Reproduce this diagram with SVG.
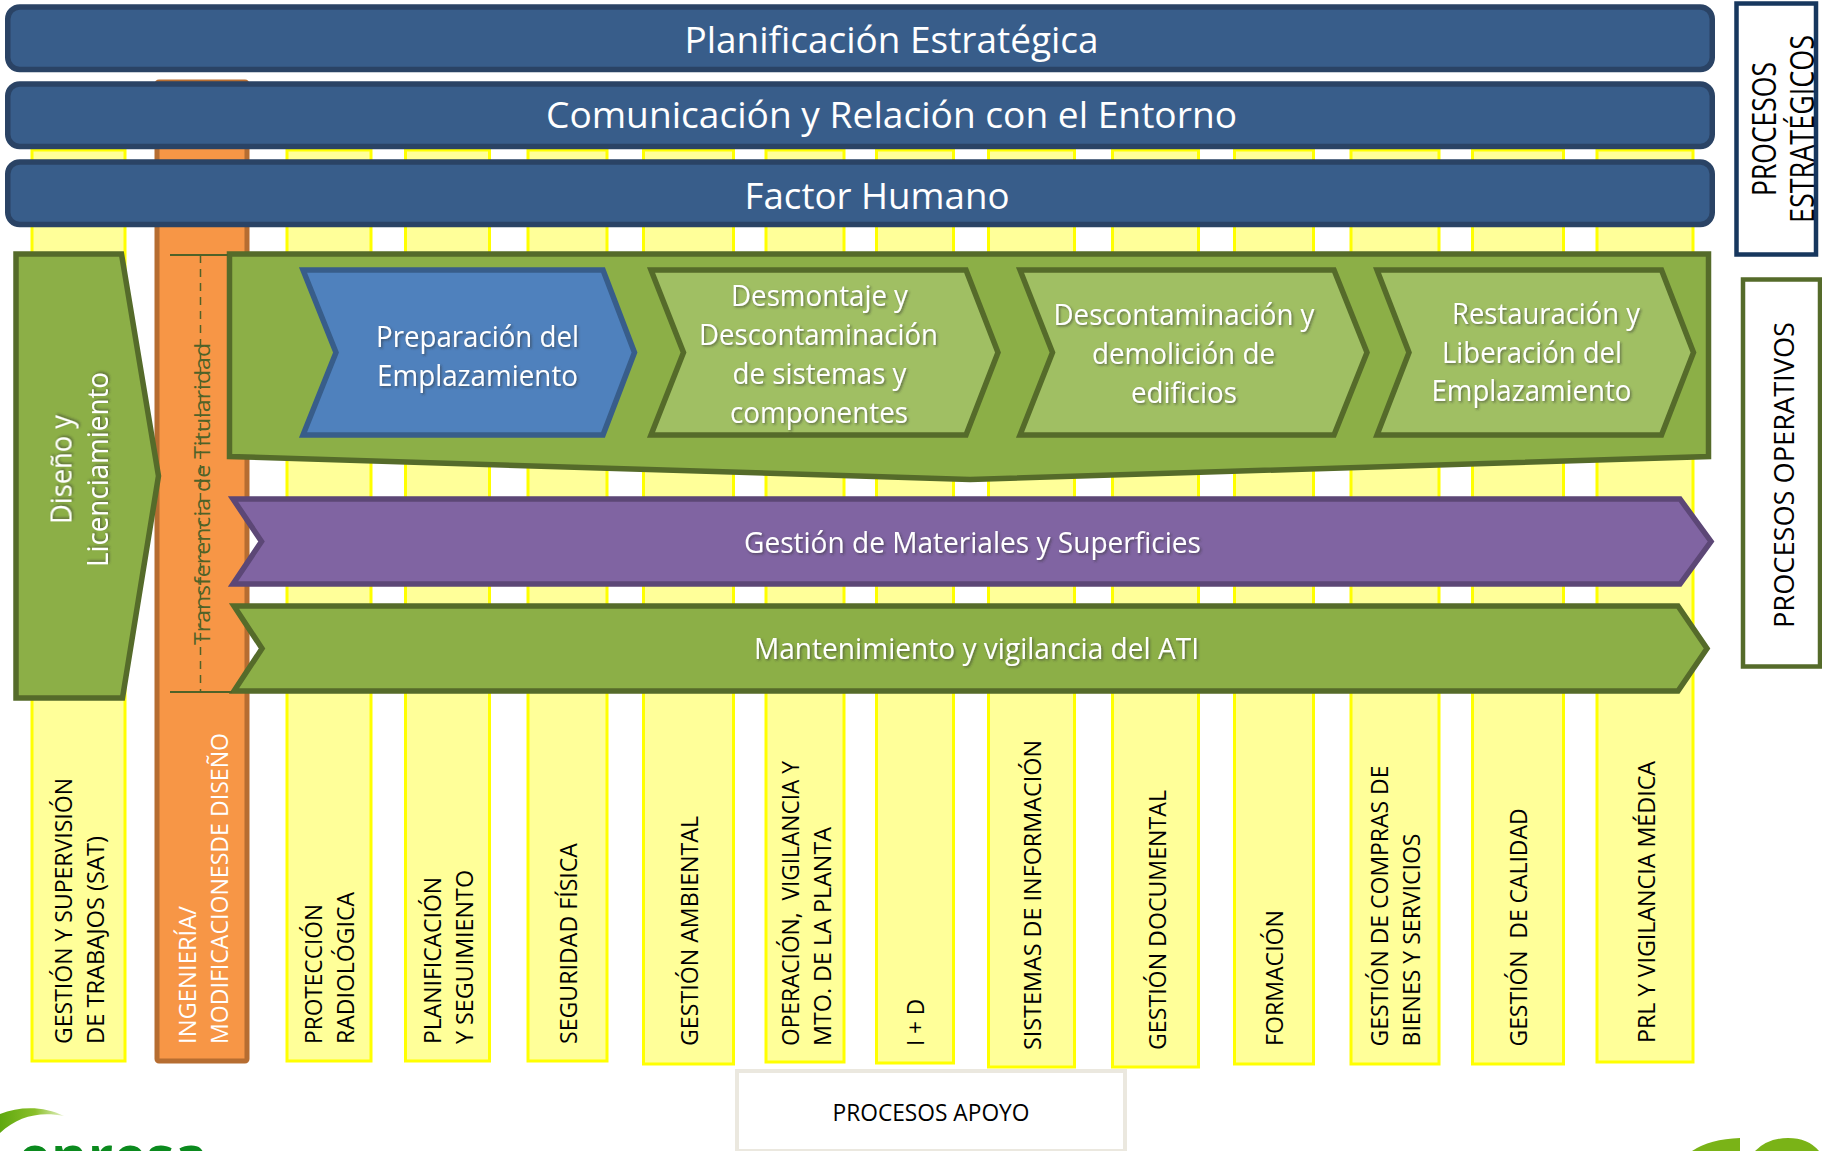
<svg xmlns="http://www.w3.org/2000/svg" width="1822" height="1151" viewBox="0 0 1822 1151">
<style>
text{font-family:"Open Sans","Noto Sans","Liberation Sans",sans-serif;white-space:pre}
.col{fill:#FFFF99;stroke:#FFFF00;stroke-width:3}
.bar{fill:#385D8A;stroke:#2A4365;stroke-width:5.5}
.bt{fill:#fff;font-size:36px;text-anchor:middle}
.gr{fill:#8CAF47;stroke:#556B2A;stroke-width:5.5;stroke-linejoin:miter}
.lg{fill:#A0BF63;stroke:#556B2A;stroke-width:5.5}
.ct{fill:#fff;font-size:30px;filter:url(#sh)}
.st{fill:#000;font-size:23px}
.wt{fill:#fff;font-size:23px}
.box{fill:#fff}
.lbl{fill:#000;font-size:32px}
</style>
<defs>
<filter id="sh" x="-10%" y="-30%" width="120%" height="160%"><feDropShadow dx="1.5" dy="1.5" stdDeviation="1" flood-color="#333" flood-opacity=".55"/></filter>
<linearGradient id="arc" x1="0" y1="0" x2="1" y2="0"><stop offset="0" stop-color="#5FA80F"/><stop offset=".55" stop-color="#8ABF2A"/><stop offset="1" stop-color="#E6F2C8"/></linearGradient>
</defs>
<rect width="1822" height="1151" fill="#fff"/>

<g id="columns">
<rect class="col" x="32" y="150" width="93" height="911"/>
<rect class="col" x="287" y="150" width="84" height="911"/>
<rect class="col" x="405.500" y="150" width="84" height="911"/>
<rect class="col" x="528" y="150" width="79" height="911"/>
<rect class="col" x="643.500" y="150" width="90" height="914"/>
<rect class="col" x="766" y="150" width="78" height="912"/>
<rect class="col" x="876.500" y="150" width="77" height="913"/>
<rect class="col" x="988.500" y="150" width="86" height="917"/>
<rect class="col" x="1112.500" y="150" width="86" height="917"/>
<rect class="col" x="1234.500" y="150" width="79" height="914"/>
<rect class="col" x="1351" y="150" width="88" height="914"/>
<rect class="col" x="1472.500" y="150" width="91" height="914"/>
<rect class="col" x="1597" y="150" width="96" height="912"/>
</g>

<g id="ingenieria">
<rect x="157" y="82" width="90" height="979" rx="2" fill="#F79646" stroke="#B66D31" stroke-width="5"/>
<text class="wt" transform="translate(195.500,1044) rotate(-90)" textLength="138" lengthAdjust="spacingAndGlyphs">INGENIERÍA/</text>
<text class="wt" transform="translate(227.500,1044) rotate(-90)" textLength="311" lengthAdjust="spacingAndGlyphs">MODIFICACIONESDE DISEÑO</text>
</g>

<g id="bar-planificacion">
<rect class="bar" x="7.750" y="7" width="1704.500" height="62.500" rx="12"/>
<text class="bt" x="891.500" y="53" textLength="414" lengthAdjust="spacingAndGlyphs">Planificación Estratégica</text>
</g>
<g id="bar-comunicacion">
<rect class="bar" x="7.750" y="84" width="1704.500" height="62.500" rx="12"/>
<text class="bt" x="891.500" y="128" textLength="691" lengthAdjust="spacingAndGlyphs">Comunicación y Relación con el Entorno</text>
</g>
<g id="bar-factor">
<rect class="bar" x="7.750" y="162" width="1704.500" height="62.500" rx="12"/>
<text class="bt" x="877" y="209" textLength="265" lengthAdjust="spacingAndGlyphs">Factor Humano</text>
</g>

<g id="diseno">
<path class="gr" d="M16 254H121.500L158.500 476L122.500 698H16Z"/>
<text class="ct" transform="translate(71.500,524) rotate(-90)" textLength="109" lengthAdjust="spacingAndGlyphs">Diseño y</text>
<text class="ct" transform="translate(108,567) rotate(-90)" textLength="195" lengthAdjust="spacingAndGlyphs">Licenciamiento</text>
</g>

<g id="operativos-main">
<path class="gr" d="M229.500 254H1708.500V456.500L970 479.500L229.500 456.500Z"/>
</g>
<g id="preparacion">
<path fill="#4F81BD" stroke="#385D8A" stroke-width="5.5" d="M303 270H603L634.500 352.500L603 435H303L336 352.500Z"/>
<text class="ct" x="376" y="347" textLength="203" lengthAdjust="spacingAndGlyphs">Preparación del</text>
<text class="ct" x="377" y="386" textLength="201" lengthAdjust="spacingAndGlyphs">Emplazamiento</text>
</g>
<g id="desmontaje">
<path class="lg" d="M651 270H966L998 352.500L966 435H651L683.500 352.500Z"/>
<text class="ct" x="731" y="306" textLength="177" lengthAdjust="spacingAndGlyphs">Desmontaje y</text>
<text class="ct" x="699" y="345" textLength="239" lengthAdjust="spacingAndGlyphs">Descontaminación</text>
<text class="ct" x="732.500" y="384" textLength="174" lengthAdjust="spacingAndGlyphs">de sistemas y</text>
<text class="ct" x="730" y="423" textLength="178" lengthAdjust="spacingAndGlyphs">componentes</text>
</g>
<g id="descontaminacion">
<path class="lg" d="M1020 270H1334L1367 352.500L1334 435H1020L1052.500 352.500Z"/>
<text class="ct" x="1053.500" y="325" textLength="261" lengthAdjust="spacingAndGlyphs">Descontaminación y</text>
<text class="ct" x="1092" y="364" textLength="183" lengthAdjust="spacingAndGlyphs">demolición de</text>
<text class="ct" x="1131" y="403" textLength="106" lengthAdjust="spacingAndGlyphs">edificios</text>
</g>
<g id="restauracion">
<path class="lg" d="M1377 270H1661.500L1693.500 352.500L1661.500 435H1377L1409 352.500Z"/>
<text class="ct" x="1452" y="324" textLength="188" lengthAdjust="spacingAndGlyphs">Restauración y</text>
<text class="ct" x="1442" y="362.500" textLength="180" lengthAdjust="spacingAndGlyphs">Liberación del</text>
<text class="ct" x="1431.500" y="401" textLength="200" lengthAdjust="spacingAndGlyphs">Emplazamiento</text>
</g>

<g id="materiales">
<path fill="#8064A2" stroke="#5C4776" stroke-width="5.500" d="M233 499H1680L1711 541.500L1680 584H233L261.500 541.500Z"/>
<text class="ct" x="744" y="553" textLength="457" lengthAdjust="spacingAndGlyphs">Gestión de Materiales y Superficies</text>
</g>
<g id="ati">
<path class="gr" d="M234 606H1678L1707 648.500L1678 691H234L262 648.500Z"/>
<text class="ct" x="754" y="658.500" textLength="445" lengthAdjust="spacingAndGlyphs">Mantenimiento y vigilancia del ATI</text>
</g>

<g id="transferencia">
<text transform="translate(210,645) rotate(-90)" fill="#4F6228" style="font-size:22px" textLength="302" lengthAdjust="spacingAndGlyphs">Transferencia de Titularidad</text>
</g>
<g id="connectors" fill="none" stroke="#4F6228">
<path stroke-width="2" d="M170 255H228M170 692H232"/>
<path stroke-width="1.500" stroke-dasharray="8 6" d="M200.500 255V692"/>
</g>

<g id="col-labels">
<text class="st" transform="translate(71.500,1044) rotate(-90)" textLength="266" lengthAdjust="spacingAndGlyphs">GESTIÓN Y SUPERVISIÓN</text>
<text class="st" transform="translate(103.500,1044) rotate(-90)" textLength="208" lengthAdjust="spacingAndGlyphs">DE TRABAJOS (SAT)</text>
<text class="st" transform="translate(322,1044) rotate(-90)" textLength="140" lengthAdjust="spacingAndGlyphs">PROTECCIÓN</text>
<text class="st" transform="translate(354,1044) rotate(-90)" textLength="152" lengthAdjust="spacingAndGlyphs">RADIOLÓGICA</text>
<text class="st" transform="translate(441,1044) rotate(-90)" textLength="167" lengthAdjust="spacingAndGlyphs">PLANIFICACIÓN</text>
<text class="st" transform="translate(473,1044) rotate(-90)" textLength="174" lengthAdjust="spacingAndGlyphs">Y SEGUIMIENTO</text>
<text class="st" transform="translate(577,1044) rotate(-90)" textLength="201" lengthAdjust="spacingAndGlyphs">SEGURIDAD FÍSICA</text>
<text class="st" transform="translate(698,1046) rotate(-90)" textLength="230" lengthAdjust="spacingAndGlyphs">GESTIÓN AMBIENTAL</text>
<text class="st" transform="translate(799,1046) rotate(-90)" textLength="285" lengthAdjust="spacingAndGlyphs">OPERACIÓN,  VIGILANCIA Y</text>
<text class="st" transform="translate(831,1046) rotate(-90)" textLength="219" lengthAdjust="spacingAndGlyphs">MTO. DE LA PLANTA</text>
<text class="st" transform="translate(924,1046) rotate(-90)" textLength="47" lengthAdjust="spacingAndGlyphs">I + D</text>
<text class="st" transform="translate(1041,1050) rotate(-90)" textLength="310" lengthAdjust="spacingAndGlyphs">SISTEMAS DE INFORMACIÓN</text>
<text class="st" transform="translate(1165.500,1050) rotate(-90)" textLength="260" lengthAdjust="spacingAndGlyphs">GESTIÓN DOCUMENTAL</text>
<text class="st" transform="translate(1283,1046) rotate(-90)" textLength="136" lengthAdjust="spacingAndGlyphs">FORMACIÓN</text>
<text class="st" transform="translate(1388,1046.500) rotate(-90)" textLength="281" lengthAdjust="spacingAndGlyphs">GESTIÓN DE COMPRAS DE</text>
<text class="st" transform="translate(1420,1046.500) rotate(-90)" textLength="213" lengthAdjust="spacingAndGlyphs">BIENES Y SERVICIOS</text>
<text class="st" transform="translate(1527,1046.500) rotate(-90)" textLength="238" lengthAdjust="spacingAndGlyphs">GESTIÓN  DE CALIDAD</text>
<text class="st" transform="translate(1655,1043) rotate(-90)" textLength="282" lengthAdjust="spacingAndGlyphs">PRL Y VIGILANCIA MÉDICA</text>
</g>

<g id="label-estrategicos">
<rect class="box" x="1736.500" y="3.500" width="79.500" height="251" stroke="#17375E" stroke-width="4.500"/>
<text class="lbl" transform="translate(1775.500,196) rotate(-90)" textLength="134" lengthAdjust="spacingAndGlyphs">PROCESOS</text>
<text class="lbl" transform="translate(1814,223) rotate(-90)" textLength="188" lengthAdjust="spacingAndGlyphs">ESTRATÉGICOS</text>
</g>
<g id="label-operativos">
<rect class="box" x="1743" y="279.500" width="77" height="387" stroke="#556B2A" stroke-width="4.500"/>
<text class="lbl" transform="translate(1794,628) rotate(-90)" style="font-size:28px" textLength="306" lengthAdjust="spacingAndGlyphs">PROCESOS OPERATIVOS</text>
</g>
<g id="label-apoyo">
<rect class="box" x="737" y="1071" width="388" height="80" stroke="#EBE8DF" stroke-width="4"/>
<text x="832.500" y="1121" fill="#000" style="font-size:24px" textLength="197" lengthAdjust="spacingAndGlyphs">PROCESOS APOYO</text>
</g>

<g id="logo-enresa">
<path fill="url(#arc)" d="M0 1114C20 1106 44 1106 64 1116C40 1111 18 1116 0 1133Z"/>
<text x="18" y="1179" fill="#0B8A1E" style="font-size:60px;font-weight:700" textLength="190" lengthAdjust="spacingAndGlyphs">enresa</text>
</g>
<g id="logo-right" fill="#7AB317">
<path d="M1692 1151Q1710 1139 1740 1138V1151Z"/>
<path d="M1755 1151Q1768 1138 1788 1138Q1808 1138 1819 1151Z"/>
</g>
</svg>
